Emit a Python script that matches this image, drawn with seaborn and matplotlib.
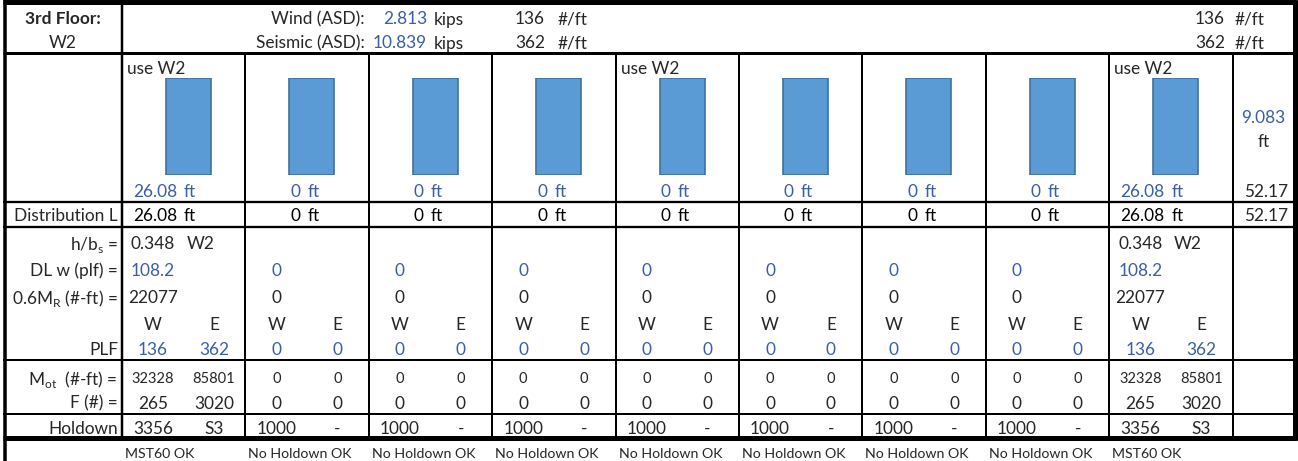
import matplotlib.pyplot as plt
import seaborn as sns
import pandas as pd

# Header values
floor_label = '3rd Floor:'
wall_label = 'W2'
wind_kips = 2.813
seismic_kips = 10.839
wind_plf = 136
seismic_plf = 362

# Per-panel values (9 wall lines)
panel_use = ['W2', '', '', '', 'W2', '', '', '', 'W2']
wall_len = [26.08, 0, 0, 0, 0, 0, 0, 0, 26.08]
dist_len = [26.08, 0, 0, 0, 0, 0, 0, 0, 26.08]
wall_height = [9.083, 9.083, 9.083, 9.083, 9.083, 9.083, 9.083, 9.083, 9.083]
total_len = 52.17
hbs = ['0.348', '', '', '', '', '', '', '', '0.348']
hbs_wall = ['W2', '', '', '', '', '', '', '', 'W2']
dl_w = [108.2, 0, 0, 0, 0, 0, 0, 0, 108.2]
mr = [22077, 0, 0, 0, 0, 0, 0, 0, 22077]
plf_w = [136, 0, 0, 0, 0, 0, 0, 0, 136]
plf_e = [362, 0, 0, 0, 0, 0, 0, 0, 362]
mot_w = [32328, 0, 0, 0, 0, 0, 0, 0, 32328]
mot_e = [85801, 0, 0, 0, 0, 0, 0, 0, 85801]
f_w = [265, 0, 0, 0, 0, 0, 0, 0, 265]
f_e = [3020, 0, 0, 0, 0, 0, 0, 0, 3020]
hold_w = [3356, 1000, 1000, 1000, 1000, 1000, 1000, 1000, 3356]
hold_e = ['S3', '-', '-', '-', '-', '-', '-', '-', 'S3']
status = ['MST60 OK', 'No Holdown OK', 'No Holdown OK', 'No Holdown OK', 'No Holdown OK',
          'No Holdown OK', 'No Holdown OK', 'No Holdown OK', 'MST60 OK']

sns.set_theme(style='white')
plt.rcParams['font.family'] = ['Lato', 'DejaVu Sans']
plt.rcParams['mathtext.fontset'] = 'custom'
plt.rcParams['mathtext.rm'] = 'Lato'

W, H = 1298, 461
BLUE = '#3A5DA8'
FS = 12.4      # main cell font
FS_MOT = 10.5  # overturning moment row
FS_NOTE = 10.2 # status notes under the table

fig = plt.figure(figsize=(W / 100, H / 100), dpi=100)
ax = fig.add_axes([0, 0, 1, 1])
ax.set_xlim(0, W)
ax.set_ylim(H, 0)
ax.axis('off')

X0 = 122          # right edge of label column
PW = 123.4        # panel width
N = len(panel_use)
X_END = X0 + N * PW
XR = 1294.5       # right border


def hline(y, x0, x1, px):
    ax.plot([x0, x1], [y, y], color='black', lw=px * 0.72, solid_capstyle='butt')


def vline(x, y0, y1, px):
    ax.plot([x, x], [y0, y1], color='black', lw=px * 0.72, solid_capstyle='butt')


def txt(x, y, s, ha='center', size=FS, **kw):
    ax.text(x, y, s, ha=ha, va='center_baseline', fontsize=size, **kw)


# grid
hline(2.5, 3, XR + 2.5, 5)
hline(438, 3, XR + 2.5, 5)
vline(4.5, 0, H, 3.5)
vline(XR, 0, 440, 5)
hline(53, 3, XR, 3)
for y in [202, 227]:
    hline(y, 3, XR, 2.3)
for y in [360, 414]:
    hline(y, 3, XR, 2)
vline(X0, 0, 438, 2.5)
for i in range(1, N + 1):
    vline(X0 + i * PW, 53, 438, 2)

# header
txt(X0 / 2 + 2, 18, floor_label, fontweight='bold')
txt(X0 / 2 + 2, 42, wall_label)
txt(365, 18, 'Wind (ASD):', ha='right')
txt(365, 42, 'Seismic (ASD):', ha='right')
txt(427, 18, f'{wind_kips:.3f}', ha='right', color=BLUE)
txt(427, 42, f'{seismic_kips:.3f}', ha='right', color=BLUE)
txt(434, 18, 'kips', ha='left')
txt(434, 42, 'kips', ha='left')
for xr, xl in [(545, 558), (1225, 1235)]:
    txt(xr, 18, f'{wind_plf}', ha='right')
    txt(xr, 42, f'{seismic_plf}', ha='right')
    txt(xl, 18, '#/ft', ha='left')
    txt(xl, 42, '#/ft', ha='left')

# row labels
labels = [
    (214, 'Distribution L'),
    (242, r'h/b$_{\mathregular{s}}$ ='),
    (269, 'DL w (plf) ='),
    (296, r'0.6M$_{\mathregular{R}}$ (#-ft) ='),
    (348, 'PLF'),
    (377, r'M$_{\mathregular{ot}}$  (#-ft) ='),
    (402, 'F (#) ='),
    (427, 'Holdown'),
]
for y, t in labels:
    txt(118, y, t, ha='right')

# wall elevations drawn as bars
bars = pd.DataFrame({'panel': [str(i + 1) for i in range(N)], 'height': wall_height})
ax_b = fig.add_axes([X0 / W, 1 - 175 / H, (X_END - X0) / W, 97 / H])
sns.barplot(data=bars, x='panel', y='height', ax=ax_b, width=0.365, color='#5B9BD5',
            saturation=1, edgecolor='#41719C', linewidth=1.2)
ax_b.set_xlim(-0.5 - 0.039, N - 0.5 - 0.039)
ax_b.set_ylim(0, wall_height[0])
ax_b.axis('off')


def fmt(v):
    return f'{v:g}'


for i in range(N):
    L = X0 + i * PW
    cw, ce = L + 31, L + 92
    if panel_use[i]:
        txt(L + 5, 68, 'use ' + panel_use[i], ha='left')
    for y, v, c in [(190, wall_len[i], BLUE), (214, dist_len[i], 'black')]:
        txt(L + 55, y, f'{v:.2f}' if v else '0', ha='right', color=c)
        txt(L + 62, y, 'ft', ha='left', color=c)
    if hbs[i]:
        txt(cw, 242, hbs[i])
        txt(L + 65, 242, hbs_wall[i], ha='left')
    txt(cw, 269, fmt(dl_w[i]), color=BLUE)
    txt(cw, 296, fmt(mr[i]))
    txt(cw, 323, 'W')
    txt(ce, 323, 'E')
    txt(cw, 348, fmt(plf_w[i]), color=BLUE)
    txt(ce, 348, fmt(plf_e[i]), color=BLUE)
    txt(cw, 377, fmt(mot_w[i]), size=FS_MOT)
    txt(ce, 377, fmt(mot_e[i]), size=FS_MOT)
    txt(cw, 402, fmt(f_w[i]))
    txt(ce, 402, fmt(f_e[i]))
    txt(cw, 427, fmt(hold_w[i]))
    txt(ce, 427, hold_e[i])
    txt(L + 3, 453, status[i], ha='left', size=FS_NOTE)

# total column
xc = (X_END + XR) / 2
txt(xc, 116, f'{wall_height[0]:.3f}', color=BLUE)
txt(xc, 140, 'ft')
txt(1288, 190, f'{total_len:.2f}', ha='right')
txt(1288, 214, f'{total_len:.2f}', ha='right')

fig.savefig('out.png', dpi=100, facecolor='white')
